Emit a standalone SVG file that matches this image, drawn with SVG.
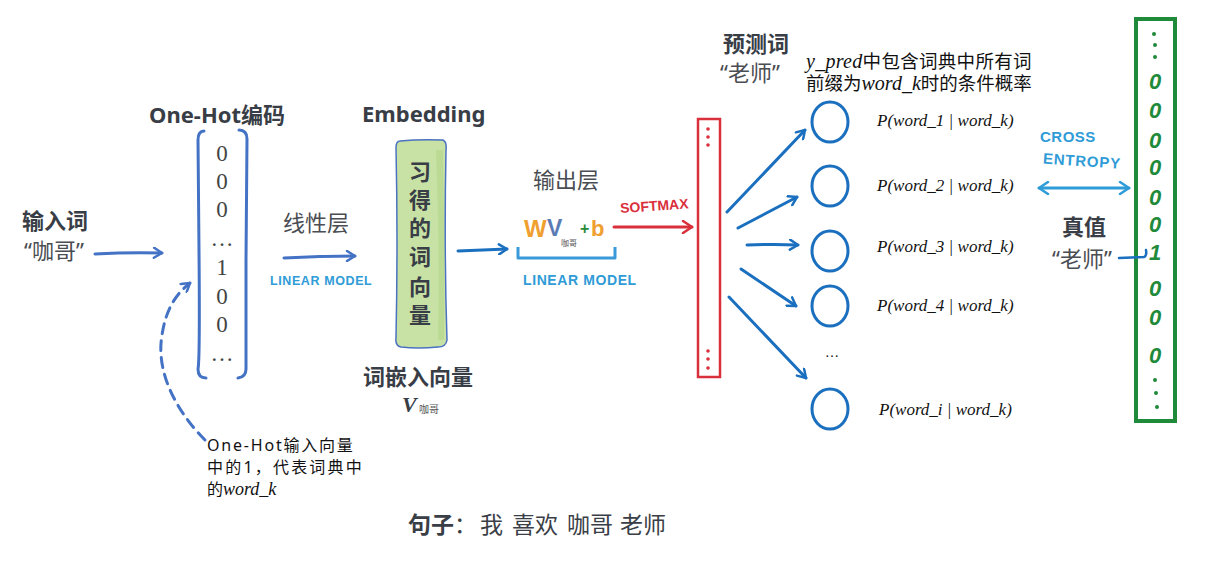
<svg xmlns="http://www.w3.org/2000/svg" width="1230" height="563" viewBox="0 0 1230 563">
<defs>
<style>
.title{font-family:"Noto Sans","Noto Sans CJK SC",sans-serif;font-weight:700;font-size:22px;fill:#383d46}
.cn{font-family:"Noto Sans","Noto Sans CJK SC",sans-serif;font-size:22px;fill:#4a4d52}
.cnb{font-family:"Noto Sans CJK SC",sans-serif;font-size:18.5px;fill:#111}
.math{font-family:"Liberation Serif",serif;font-style:italic;font-size:17px;fill:#111}
.digit{font-family:"Liberation Serif",serif;font-size:23px;fill:#444;text-anchor:middle}
.hand{font-family:"Liberation Sans",sans-serif;font-weight:700}
.cyan{fill:#2f9bd7}
.gz{font-family:"Liberation Sans",sans-serif;font-weight:700;font-style:italic;font-size:22px;fill:#1f8a3a;text-anchor:middle}
.blue1{fill:none;stroke:#4472c4;stroke-width:3;stroke-linecap:round}
.blue2{fill:none;stroke:#1a6fbf;stroke-width:3;stroke-linecap:round}
.circ{fill:none;stroke:#1a6fbf;stroke-width:3}
.note{font-family:"Noto Sans","Noto Sans CJK SC",sans-serif;font-size:16px;fill:#111}
</style>
<marker id="ahb1" viewBox="0 0 12 12" refX="10" refY="6" markerWidth="12" markerHeight="12" markerUnits="userSpaceOnUse" orient="auto"><path d="M2,1 L10,6 L2,11" fill="none" stroke="#4472c4" stroke-width="2.5" stroke-linecap="round" stroke-linejoin="round"/></marker>
<marker id="ahb2" viewBox="0 0 12 12" refX="10" refY="6" markerWidth="12" markerHeight="12" markerUnits="userSpaceOnUse" orient="auto"><path d="M2,1 L10,6 L2,11" fill="none" stroke="#1a6fbf" stroke-width="2.5" stroke-linecap="round" stroke-linejoin="round"/></marker>
<marker id="ahr" viewBox="0 0 14 14" refX="12" refY="7" markerWidth="14" markerHeight="14" markerUnits="userSpaceOnUse" orient="auto"><path d="M3,1 L12,7 L3,13" fill="none" stroke="#d9303c" stroke-width="2.5" stroke-linecap="round" stroke-linejoin="round"/></marker>
<marker id="ahc" viewBox="0 0 14 14" refX="12" refY="7" markerWidth="14" markerHeight="14" markerUnits="userSpaceOnUse" orient="auto-start-reverse"><path d="M3,1 L12,7 L3,13" fill="none" stroke="#2f9bd7" stroke-width="2.5" stroke-linecap="round" stroke-linejoin="round"/></marker>
</defs>
<rect width="1230" height="563" fill="#ffffff"/>

<g id="input-word">
<text class="title" x="22" y="229">输入词</text>
<text class="cn" x="24" y="259" font-size="21">“咖哥”</text>
</g>

<g id="onehot">
<text class="title" x="149" y="123" font-size="23">One-Hot编码</text>
<path d="M204,131 Q198,131 198,140 L199,250 Q200,360 198,369 Q198,378 206,378" fill="none" stroke="#4472c4" stroke-width="3" stroke-linecap="round"/>
<path d="M239,130 Q247,130 247,139 L246,260 Q246,360 246,369 Q246,377 238,378" fill="none" stroke="#4472c4" stroke-width="3" stroke-linecap="round"/>
<text class="digit" x="222" y="161">0</text>
<text class="digit" x="222" y="189">0</text>
<text class="digit" x="222" y="217">0</text>
<text class="digit" x="222" y="246">…</text>
<text class="digit" x="222" y="275">1</text>
<text class="digit" x="222" y="304">0</text>
<text class="digit" x="222" y="332">0</text>
<text class="digit" x="222" y="361">…</text>
</g>

<g id="linear1">
<text class="cn" x="283" y="231">线性层</text>
<text class="hand cyan" x="270" y="285" font-size="12.5" letter-spacing="0.6">LINEAR MODEL</text>
</g>

<g id="embedding">
<text class="title" x="362" y="122">Embedding</text>
<path d="M400,141 Q420,139 443,140 Q447,142 446,150 Q444,250 447,340 Q446,347 438,347 Q418,349 401,347 Q395,346 396,338 Q398,240 396,148 Q396,141 400,141 Z" fill="#c8e2a6" stroke="#4a72c0" stroke-width="1.5"/>
<path d="M436,150 Q440,250 438,340 L444,340 Q445,250 443,150 Z" fill="#b5d78c" opacity="0.7"/>
<g class="title" font-size="22" text-anchor="middle">
<text x="420" y="180">习</text>
<text x="420" y="208">得</text>
<text x="420" y="236">的</text>
<text x="420" y="265">词</text>
<text x="420" y="295">向</text>
<text x="420" y="323">量</text>
</g>
<text class="title" x="363" y="385" font-size="23">词嵌入向量</text>
<text x="402" y="412" font-family="Liberation Serif,serif" font-weight="700" font-style="italic" font-size="22" fill="#383d46">V</text>
<text x="419" y="413" font-family="Noto Sans CJK SC,sans-serif" font-size="10" fill="#555">咖哥</text>
</g>

<g id="output-layer">
<text class="cn" x="533" y="188">输出层</text>
<text class="hand" x="524" y="237" font-size="24" fill="#f0a030" font-weight="400">W</text>
<text class="hand" x="547" y="236" font-size="23" fill="#5b7bb5" font-weight="400">V</text>
<text x="561" y="246" font-family="Noto Sans CJK SC,sans-serif" font-size="8" fill="#555">咖哥</text>
<text class="hand" x="580" y="234" font-size="16" fill="#2a8a3a">+</text>
<text class="hand" x="591" y="236" font-size="22" fill="#f0a030" font-weight="400">b</text>
<path d="M518,247 L518,258 L615,258 L615,247" fill="none" stroke="#3a9ad9" stroke-width="3" stroke-linejoin="round"/>
<text class="hand cyan" x="523" y="285" font-size="14" letter-spacing="0.6">LINEAR MODEL</text>
</g>

<g id="softmax-vector">
<rect x="698" y="119" width="22" height="258" fill="none" stroke="#d9303c" stroke-width="2.5"/>
<g fill="#d9303c">
<circle cx="708" cy="129" r="1.8"/><circle cx="708" cy="137" r="1.8"/><circle cx="708" cy="145" r="1.8"/>
<circle cx="708" cy="351" r="1.8"/><circle cx="708" cy="359" r="1.8"/><circle cx="708" cy="368" r="1.8"/>
</g>
</g>

<g id="prediction">
<text class="title" x="723" y="52">预测词</text>
<text class="cn" x="720" y="81" font-size="21">“老师”</text>
<text class="cnb" x="806" y="68" letter-spacing="0.3"><tspan font-family="Liberation Serif,serif" font-style="italic" font-size="20">y_pred</tspan>中包含词典中所有词</text>
<text class="cnb" x="806" y="90">前缀为<tspan font-family="Liberation Serif,serif" font-style="italic" font-size="20">word_k</tspan>时的条件概率</text>
</g>

<g id="outputs">
<ellipse class="circ" cx="830" cy="122" rx="18" ry="20"/>
<ellipse class="circ" cx="830" cy="186" rx="18" ry="20"/>
<ellipse class="circ" cx="830" cy="251" rx="18" ry="20"/>
<ellipse class="circ" cx="830" cy="306" rx="18" ry="20"/>
<ellipse class="circ" cx="830" cy="409" rx="18" ry="20"/>
<text x="832" y="357" font-family="Liberation Serif,serif" font-size="14" fill="#111" text-anchor="middle">…</text>
<text class="math" x="877" y="126">P(word_1 | word_k)</text>
<text class="math" x="877" y="191">P(word_2 | word_k)</text>
<text class="math" x="877" y="252">P(word_3 | word_k)</text>
<text class="math" x="877" y="311">P(word_4 | word_k)</text>
<text class="math" x="879" y="415">P(word_i | word_k)</text>
</g>

<g id="cross-entropy">
<text class="hand cyan" x="1040" y="142" font-size="15" letter-spacing="0.5">CROSS</text>
<text class="hand cyan" x="1043" y="166" font-size="15" letter-spacing="0.8" transform="rotate(4 1080 160)">ENTROPY</text>
</g>

<g id="truth">
<text class="title" x="1062" y="235">真值</text>
<text class="cn" x="1052" y="267" font-size="21">“老师”</text>
</g>

<g id="truth-vector">
<rect x="1136" y="19" width="39" height="402" fill="none" stroke="#1f8a3a" stroke-width="4"/>
<g fill="#1f8a3a">
<circle cx="1154" cy="34" r="2"/><circle cx="1155" cy="45" r="2"/><circle cx="1155" cy="57" r="2"/>
<circle cx="1155" cy="380" r="2"/><circle cx="1156" cy="393" r="2"/><circle cx="1157" cy="407" r="2"/>
</g>
<text class="gz" x="1155" y="89" font-size="18">0</text>
<text class="gz" x="1155" y="118">0</text>
<text class="gz" x="1155" y="148">0</text>
<text class="gz" x="1155" y="175" font-size="19">0</text>
<text class="gz" x="1155" y="205">0</text>
<text class="gz" x="1155" y="232" font-size="24">0</text>
<text class="gz" x="1155" y="260" font-size="25" font-style="normal">1</text>
<text class="gz" x="1155" y="296" font-size="24">0</text>
<text class="gz" x="1155" y="325" font-size="18">0</text>
<text class="gz" x="1155" y="363">0</text>
</g>

<g id="annotation">
<text class="note" x="207" y="451" letter-spacing="1.8">One-Hot输入向量</text>
<text class="note" x="207" y="473" letter-spacing="2.2">中的1，代表词典中</text>
<text class="note" x="207" y="495">的<tspan font-family="Liberation Serif,serif" font-style="italic" font-size="18">word_k</tspan></text>
</g>

<g id="sentence">
<text x="408" y="533" font-family="Noto Sans CJK SC,sans-serif" font-size="23" fill="#3a3e46"><tspan font-weight="700">句子</tspan><tspan>：</tspan><tspan x="480">我</tspan><tspan x="512">喜欢</tspan><tspan x="567">咖哥</tspan><tspan x="620">老师</tspan></text>
</g>

<g id="connectors">
<path class="blue1" d="M95,254 Q130,252 162,253" marker-end="url(#ahb1)"/>
<path class="blue1" d="M284,258 Q320,256 355,256" marker-end="url(#ahb1)"/>
<path class="blue1" d="M205,440 C180,415 155,375 162,335 C166,308 177,293 190,283" stroke-dasharray="10 7" marker-end="url(#ahb1)"/>
<path class="blue2" d="M458,251 Q485,250 507,249" marker-end="url(#ahb2)"/>
<path d="M614,227 L692,227" fill="none" stroke="#d9303c" stroke-width="3" stroke-linecap="round" marker-end="url(#ahr)"/>
<text class="hand" x="620" y="211" font-size="14" fill="#d9303c" transform="rotate(-4 650 205)">SOFTMAX</text>
<path class="blue2" d="M727,212 L805,130" marker-end="url(#ahb2)"/>
<path class="blue2" d="M738,228 L797,197" marker-end="url(#ahb2)"/>
<path class="blue2" d="M747,245 Q775,244 798,245" marker-end="url(#ahb2)"/>
<path class="blue2" d="M741,269 L796,306" marker-end="url(#ahb2)"/>
<path class="blue2" d="M729,297 L806,378" marker-end="url(#ahb2)"/>
<path d="M1039,188 L1129,188" fill="none" stroke="#2f9bd7" stroke-width="3" stroke-linecap="round" marker-start="url(#ahc)" marker-end="url(#ahc)"/>
<path d="M1119,258 L1144,257 Q1147,256 1146,250" fill="none" stroke="#1a6fbf" stroke-width="2.5" stroke-linecap="round"/>
</g>
</svg>
